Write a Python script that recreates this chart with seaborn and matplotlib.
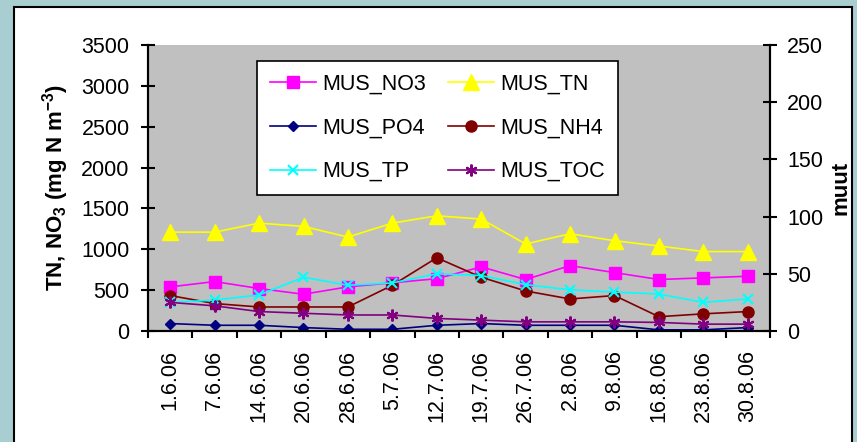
import numpy as np
import pandas as pd
import matplotlib
matplotlib.use("Agg")
import matplotlib.pyplot as plt
from matplotlib.patches import Rectangle
from matplotlib.ticker import FixedLocator, NullFormatter
import seaborn as sns

dates = ["1.6.06", "7.6.06", "14.6.06", "20.6.06", "28.6.06", "5.7.06", "12.7.06",
         "19.7.06", "26.7.06", "2.8.06", "9.8.06", "16.8.06", "23.8.06", "30.8.06"]
# left axis (mg N m-3)
mus_no3 = [540, 605, 520, 450, 540, 590, 640, 785, 630, 800, 715, 630, 650, 670]
mus_tn = [1210, 1210, 1320, 1280, 1150, 1320, 1410, 1370, 1065, 1190, 1105, 1040, 972, 972]
# right axis (muut)
mus_po4 = [6.5, 5, 5, 3, 1.5, 1.5, 5, 6.5, 5, 5, 5, 1, 1, 3]
mus_nh4 = [31, 24, 21, 21, 21, 40, 64, 47, 35, 28, 31, 12.5, 15, 17]
mus_tp = [25, 27, 31.5, 47, 40, 42, 50, 48.5, 40.5, 36, 34, 32.3, 25, 28]
mus_toc = [25, 22, 17, 15.5, 14, 14, 11, 9.5, 8, 8, 8, 7.5, 6, 6]

left_ticks = [0, 500, 1000, 1500, 2000, 2500, 3000, 3500]
right_ticks = [0, 50, 100, 150, 200, 250]

plt.rcParams['font.family'] = ['Liberation Sans', 'DejaVu Sans']
plt.rcParams['mathtext.fontset'] = 'custom'
plt.rcParams['mathtext.rm'] = 'Liberation Sans'
plt.rcParams['mathtext.bf'] = 'Liberation Sans:bold'

W, H = 857, 442
fig = plt.figure(figsize=(W / 100, H / 100), dpi=100)
fig.patch.set_facecolor('#a9ced2')
fig.patches.append(Rectangle((14 / W, -0.1), (852 - 14) / W, 1.1 - 7 / H,
                             transform=fig.transFigure, facecolor='white',
                             edgecolor='black', linewidth=1.5, zorder=-5))

ax = fig.add_axes([148 / W, 1 - 331 / H, (770 - 148) / W, (331 - 45) / H])
ax.set_facecolor('#c0c0c0')
ax2 = ax.twinx()

pos = np.arange(len(dates))
df_left = pd.DataFrame({'pos': pos, 'MUS_NO3': mus_no3, 'MUS_TN': mus_tn})
df_right = pd.DataFrame({'pos': pos, 'MUS_PO4': mus_po4, 'MUS_NH4': mus_nh4,
                         'MUS_TP': mus_tp, 'MUS_TOC': mus_toc})

lw = 1.2
styles = {
    'MUS_NO3': dict(color='#ff00ff', marker='s', markersize=8),
    'MUS_TN': dict(color='#ffff00', marker='^', markersize=11),
    'MUS_PO4': dict(color='#000080', marker='D', markersize=5.5),
    'MUS_NH4': dict(color='#800000', marker='o', markersize=8),
    'MUS_TP': dict(color='#00ffff', marker='x', markersize=7.5, markeredgewidth=1.5),
    'MUS_TOC': dict(color='#800080', marker=(6, 2, 0), markersize=8.5, markeredgewidth=1.5),
}

for name in ['MUS_NO3', 'MUS_TN']:
    st = styles[name]
    sns.lineplot(data=df_left, x='pos', y=name, ax=ax, sort=False, label=name,
                 color=st['color'], marker=st['marker'], markersize=st['markersize'],
                 markeredgecolor=st['color'], markeredgewidth=st.get('markeredgewidth', 1),
                 linewidth=lw, legend=False)
for name in ['MUS_PO4', 'MUS_NH4', 'MUS_TP', 'MUS_TOC']:
    st = styles[name]
    sns.lineplot(data=df_right, x='pos', y=name, ax=ax2, sort=False, label=name,
                 color=st['color'], marker=st['marker'], markersize=st['markersize'],
                 markeredgecolor=st['color'], markeredgewidth=st.get('markeredgewidth', 1),
                 linewidth=lw, legend=False)

ax.set_xlim(-0.5, len(dates) - 0.5)
ax.set_ylim(0, 3500)
ax2.set_ylim(0, 250)
ax.set_yticks(left_ticks)
ax2.set_yticks(right_ticks)
ax.set_xticks(pos)
ax.set_xticklabels(dates, rotation=90, fontsize=15.5)
ax.xaxis.set_minor_locator(FixedLocator(np.arange(-0.5, len(dates), 1.0)))
ax.xaxis.set_minor_formatter(NullFormatter())
ax.tick_params(axis='x', which='major', length=0, pad=13.5)
ax.tick_params(axis='x', which='minor', length=5, width=1.5, direction='out', color='black')
ax.tick_params(axis='y', which='major', length=9.5, width=1.5, direction='inout', pad=8.5,
               labelsize=15.5)
ax2.tick_params(axis='y', which='major', length=9.5, width=1.5, direction='inout', pad=7.5,
                labelsize=15.5)
ax.grid(False)
ax2.grid(False)

for a in (ax, ax2):
    a.spines['top'].set_visible(False)
    for s in ('left', 'right', 'bottom'):
        a.spines[s].set_color('black')
        a.spines[s].set_linewidth(1.5)

ax.set_xlabel('')
ax.set_ylabel(r'TN, NO$_\mathbf{3}$ (mg N m$^\mathbf{-3}$)', fontsize=16, fontweight='bold')
ax.yaxis.set_label_coords(71 / W, 1 - 188 / H, transform=fig.transFigure)
ax2.set_ylabel('muut', fontsize=16, fontweight='bold', rotation=90)
ax2.yaxis.set_label_coords(830 / W, 1 - 188 / H, transform=fig.transFigure)

h1, l1 = ax.get_legend_handles_labels()
h2, l2 = ax2.get_legend_handles_labels()
hd = dict(zip(l1 + l2, h1 + h2))
order = ['MUS_NO3', 'MUS_PO4', 'MUS_TP', 'MUS_TN', 'MUS_NH4', 'MUS_TOC']
leg = ax2.legend([hd[k] for k in order], order, ncol=2, loc='upper left',
                 bbox_to_anchor=(257 / W, 1 - 61 / H), bbox_transform=fig.transFigure,
                 fontsize=15.5, frameon=True, fancybox=False, framealpha=1,
                 edgecolor='black', facecolor='white', borderpad=0.6,
                 labelspacing=1.05, handlelength=2.15, handletextpad=0.3,
                 columnspacing=1.0, borderaxespad=0)
leg.get_frame().set_linewidth(1.2)

fig.savefig('out.png', dpi=100, facecolor=fig.get_facecolor())
